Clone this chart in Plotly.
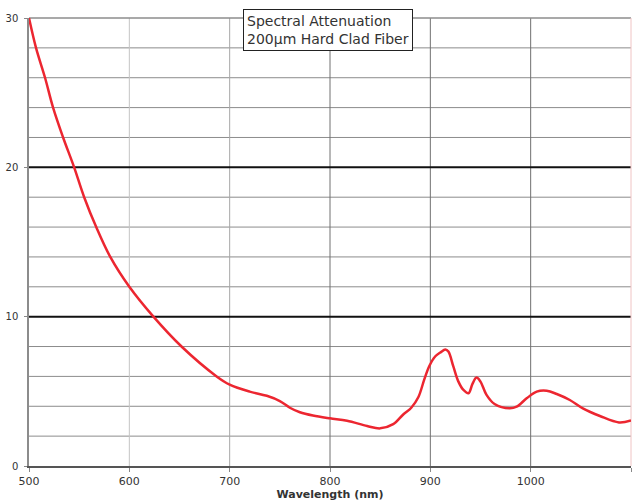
import plotly.graph_objects as go

wavelength = [500, 507, 516, 524, 534, 545, 555, 567, 581, 600, 624, 652, 687, 700,
              720, 737, 750, 760, 770, 783, 800, 817, 837, 850, 863, 873, 881, 888, 894, 899,
              905, 910, 915, 918, 923, 928, 933, 938, 942, 946, 950, 956, 964, 979, 986,
              996, 1006, 1016, 1026, 1039, 1052, 1069, 1088, 1100]
attenuation = [30.0, 28.0, 26.0, 24.0, 22.0, 20.0, 18.0, 16.0, 14.0, 12.0, 10.0, 8.0, 6.0, 5.45,
               4.98, 4.7, 4.35, 3.9, 3.6, 3.38, 3.19, 3.03, 2.68, 2.52, 2.8, 3.45, 3.9, 4.6, 5.8, 6.7,
               7.35, 7.6, 7.8, 7.66, 6.65, 5.65, 5.09, 4.87, 5.5, 5.92, 5.65, 4.76, 4.15, 3.86, 3.97,
               4.53, 4.98, 5.04, 4.82, 4.42, 3.86, 3.35, 2.92, 3.05]

x_ticks = [500, 600, 700, 800, 900, 1000, 1100]
y_ticks = [0, 10, 20, 30]
v_grid = [600, 700, 800, 900, 1000]
v_grid_colors = ["#c4c4c4", "#a8a8a8", "#707070", "#707070", "#707070"]
h_major = [10, 20]
h_minor = [2, 4, 6, 8, 12, 14, 16, 18, 22, 24, 26, 28]
title_text = "Spectral Attenuation<br>200µm Hard Clad Fiber"

fig = go.Figure()
fig.add_trace(go.Scatter(x=wavelength, y=attenuation, mode="lines",
                         line=dict(color="#ec2630", width=2.5, shape="spline", smoothing=1.0),
                         showlegend=False, hoverinfo="skip", cliponaxis=True))

shapes = []
for yv in h_minor:
    shapes.append(dict(type="line", xref="paper", yref="y", x0=0, x1=1, y0=yv, y1=yv,
                       line=dict(color="#8c8c8c", width=1), layer="below"))
for xv, c in zip(v_grid, v_grid_colors):
    shapes.append(dict(type="line", xref="x", yref="paper", x0=xv, x1=xv, y0=0, y1=1,
                       line=dict(color=c, width=1), layer="below"))
for yv in h_major:
    shapes.append(dict(type="line", xref="paper", yref="y", x0=0, x1=1, y0=yv, y1=yv,
                       line=dict(color="#111111", width=2), layer="below"))
shapes.append(dict(type="line", xref="paper", yref="paper", x0=0, x1=1, y0=1, y1=1,
                   line=dict(color="#8c8c8c", width=1.5), layer="below"))
shapes.append(dict(type="line", xref="paper", yref="paper", x0=1, x1=1, y0=0, y1=1,
                   line=dict(color="#f0c4c4", width=1), layer="below"))

fig.update_layout(
    width=644, height=503,
    margin=dict(l=29, r=13, t=18, b=37, autoexpand=False),
    paper_bgcolor="white", plot_bgcolor="white",
    font=dict(family="DejaVu Sans", color="#333333"),
    shapes=shapes,
    xaxis=dict(range=[500, 1100], tickmode="array", tickvals=x_ticks, showgrid=False,
               showline=True, linecolor="#555555", linewidth=1.5, automargin=False,
               ticks="outside", ticklen=4, tickcolor="#888888",
               tickfont=dict(size=11, color="#333333"), zeroline=False,
               title=dict(text="<b>Wavelength (nm)</b>", font=dict(size=11, color="#333333"), standoff=2)),
    yaxis=dict(range=[0, 30], tickmode="array", tickvals=y_ticks, showgrid=False,
               showline=True, linecolor="#8c8c8c", linewidth=1.5, automargin=False,
               ticks="outside", ticklen=3, tickcolor="#888888",
               tickfont=dict(size=10, color="#333333"), zeroline=False,
               ticklabelstandoff=4),
    annotations=[dict(text=title_text, xref="paper", yref="paper",
                      x=(243 - 29) / 602, y=(466 - 9) / 448, xanchor="left", yanchor="top",
                      showarrow=False, align="left", bgcolor="white",
                      bordercolor="#222222", borderwidth=1, borderpad=3,
                      font=dict(family="DejaVu Sans", size=14, color="#333333"))],
)

fig.write_html("out.html", config={"displayModeBar": False},
               post_script="document.body.style.margin='0';document.body.style.overflow='hidden';")
